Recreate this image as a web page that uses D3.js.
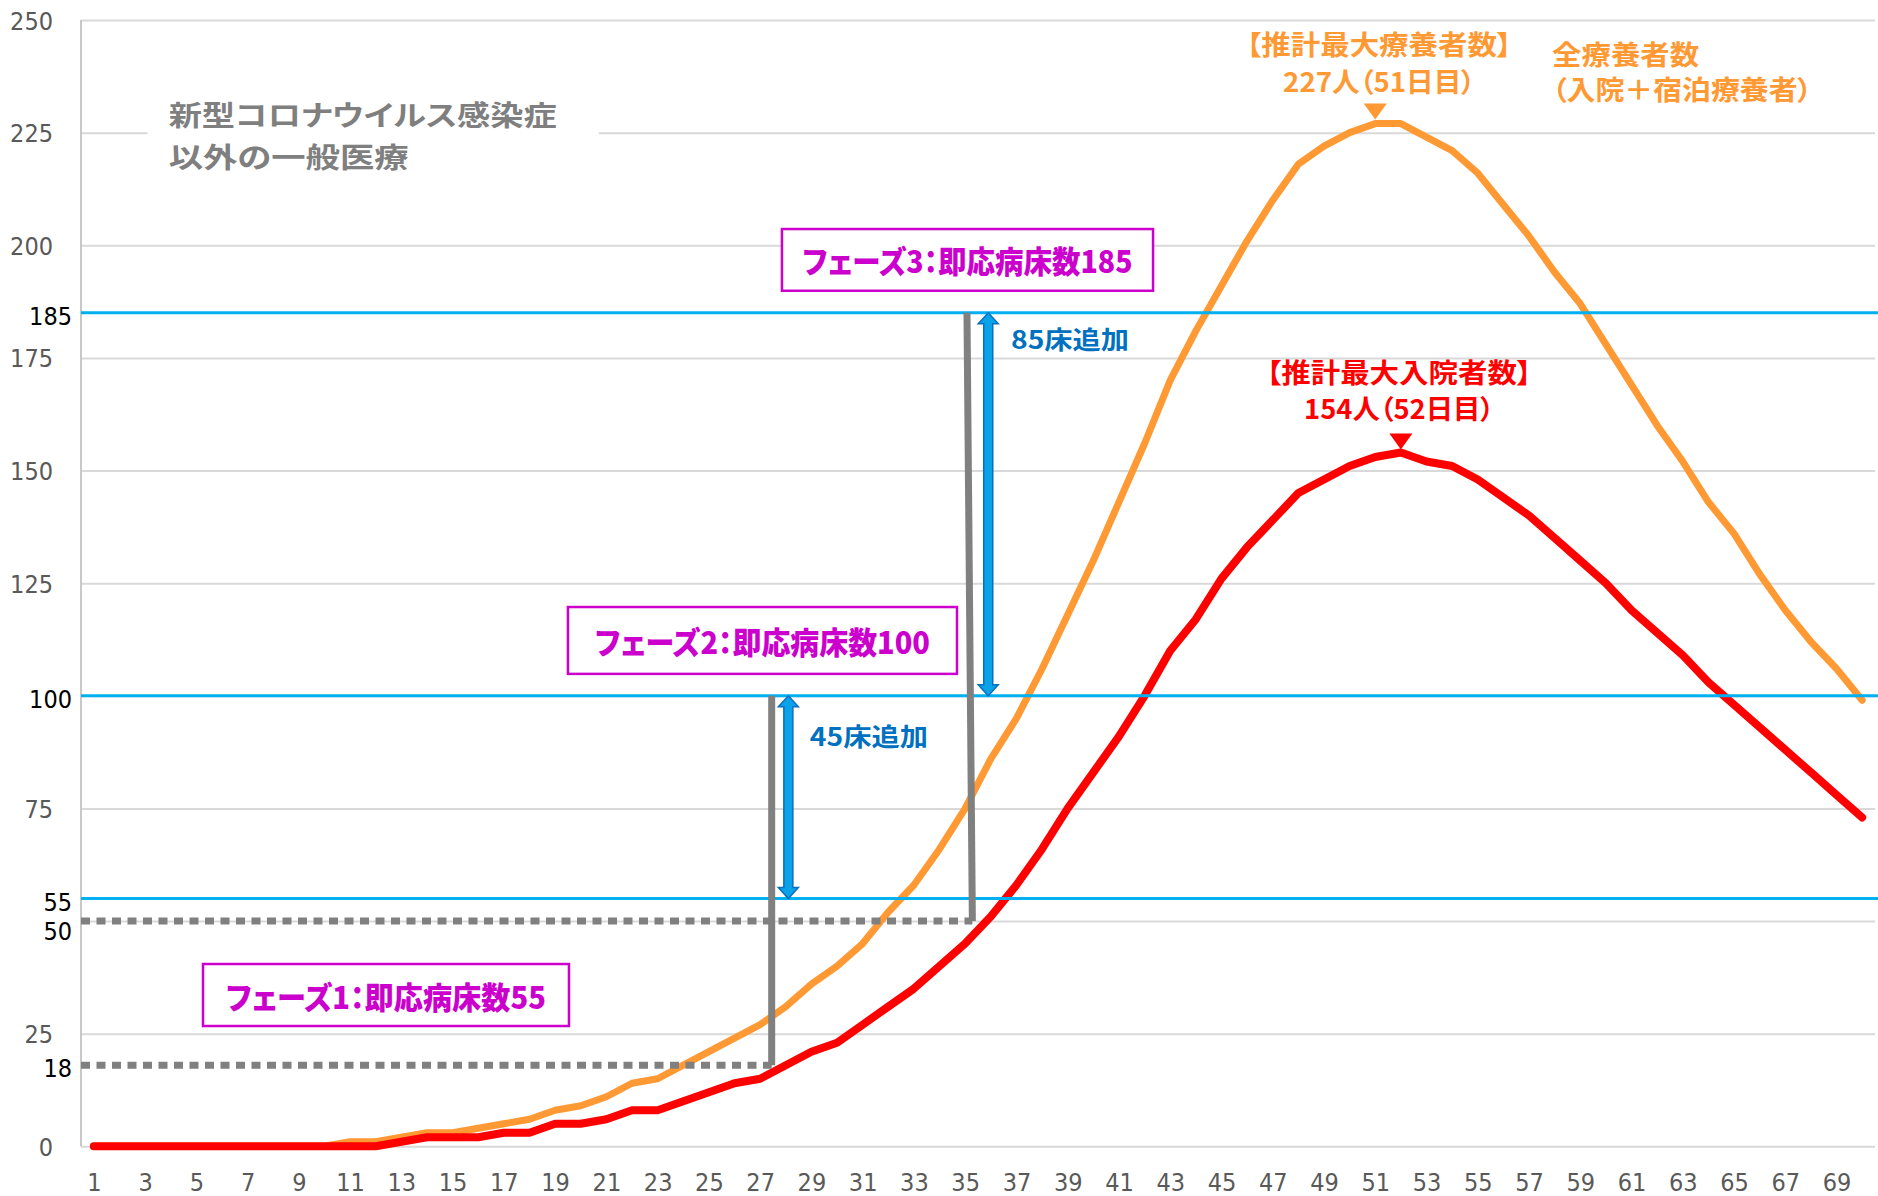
<!DOCTYPE html>
<html>
<head>
<meta charset="utf-8">
<script src="https://cdn.jsdelivr.net/npm/d3@7"></script>
<style>
    body { margin: 0; background: #fff; }
    svg { display: block; }
    .tick text {
        font-family: "DejaVu Sans Condensed", "DejaVu Sans", sans-serif;
        font-stretch: condensed;
        font-size: 25px;
        fill: #595959;
    }
    .jp {
        font-family: "Noto Sans CJK JP", sans-serif;
        font-weight: bold;
        font-feature-settings: "palt";
    }
    .heavy { font-weight: 900; }
</style>
</head>
<body>
<div class="chart-container"></div>
<script>
// Data
const days = [
    1, 2, 3, 4, 5, 6, 7, 8, 9, 10,
    11, 12, 13, 14, 15, 16, 17, 18, 19, 20,
    21, 22, 23, 24, 25, 26, 27, 28, 29, 30,
    31, 32, 33, 34, 35, 36, 37, 38, 39, 40,
    41, 42, 43, 44, 45, 46, 47, 48, 49, 50,
    51, 52, 53, 54, 55, 56, 57, 58, 59, 60,
    61, 62, 63, 64, 65, 66, 67, 68, 69, 70
];

// 全療養者数（入院＋宿泊療養者）
const totalCare = [
    0, 0, 0, 0, 0, 0, 0, 0, 0, 0,
    1, 1, 2, 3, 3, 4, 5, 6, 8, 9,
    11, 14, 15, 18, 21, 24, 27, 31, 36, 40,
    45, 52, 58, 66, 75, 86, 95, 106, 118, 130,
    143, 156, 170, 181, 191, 201, 210, 218, 222, 225,
    227, 227, 224, 221, 216, 209, 202, 194, 187, 178,
    169, 160, 152, 143, 136, 127, 119, 112, 106, 99
];

// 入院者数
const hospitalized = [
    0, 0, 0, 0, 0, 0, 0, 0, 0, 0,
    0, 0, 1, 2, 2, 2, 3, 3, 5, 5,
    6, 8, 8, 10, 12, 14, 15, 18, 21, 23,
    27, 31, 35, 40, 45, 51, 58, 66, 75, 83,
    91, 100, 110, 117, 126, 133, 139, 145, 148, 151,
    153, 154, 152, 151, 148, 144, 140, 135, 130, 125,
    119, 114, 109, 103, 98, 93, 88, 83, 78, 73
];

const gridValues = [0, 25, 50, 75, 100, 125, 150, 175, 200, 225, 250];
const grayTickValues = [0, 25, 75, 125, 150, 175, 200, 225, 250];
const markedValues = [18, 50, 55, 100, 185];
const bedLevels = [55, 100, 185];
const xTickValues = days.filter(d => d % 2 === 1);

const titleLines = ['新型コロナウイルス感染症', '以外の一般医療'];
const phaseLabels = ['フェーズ1：即応病床数55', 'フェーズ2：即応病床数100', 'フェーズ3：即応病床数185'];
const addLabels = ['45床追加', '85床追加'];

// Main
function ready() {
    const svgWidth = 1878;
    const svgHeight = 1196;
    const margin = { top: 20, right: 3, bottom: 49.7, left: 81 };
    const width = svgWidth - margin.left - margin.right;
    const height = svgHeight - margin.top - margin.bottom;

    const xScale = d3.scaleLinear().domain([0.5, 70.5]).range([0, width]);
    const yScale = d3.scaleLinear().domain([0, 250]).range([height, 0]);

    const svg = d3.select('.chart-container')
        .append('svg')
        .attr('width', svgWidth)
        .attr('height', svgHeight)
        .append('g')
        .attr('transform', 'translate(' + margin.left + ',' + margin.top + ')');

    // Gridlines
    const grid = svg.append('g').attr('class', 'grid')
        .call(d3.axisLeft(yScale).tickValues(gridValues).tickSize(-width).tickFormat(''));
    grid.select('.domain').remove();
    grid.selectAll('line').attr('stroke', '#d9d9d9').attr('stroke-width', 2);

    // Left axis line
    svg.append('line')
        .attr('x1', 0).attr('x2', 0)
        .attr('y1', 0).attr('y2', height)
        .attr('stroke', '#c8c8c8').attr('stroke-width', 2);

    // Y axis labels (gray)
    const yAxis = svg.append('g')
        .call(d3.axisLeft(yScale).tickValues(grayTickValues).tickSize(0).tickPadding(28));
    yAxis.select('.domain').remove();
    yAxis.selectAll('text').attr('dy', '0.36em');

    // X axis labels
    const xAxis = svg.append('g')
        .attr('transform', 'translate(0,' + height + ')')
        .call(d3.axisBottom(xScale).tickValues(xTickValues).tickSize(0).tickPadding(27));
    xAxis.select('.domain').remove();

    // Marked values on the y axis (black)
    svg.selectAll('.mark-label')
        .data(markedValues)
        .enter()
        .append('text')
        .attr('class', 'mark-label')
        .attr('x', -9)
        .attr('y', d => yScale(d) + (d === 50 ? 10 : 3))
        .attr('dy', '0.36em')
        .attr('text-anchor', 'end')
        .style('font-family', '"DejaVu Sans Condensed", "DejaVu Sans", sans-serif')
        .style('font-stretch', 'condensed')
        .style('font-size', '25px')
        .attr('fill', '#000')
        .text(d => d);

    // Title with white backing
    svg.append('rect')
        .attr('x', xScale(3.1)).attr('y', yScale(235.5))
        .attr('width', xScale(20.7) - xScale(3.1))
        .attr('height', yScale(215.6) - yScale(235.5))
        .attr('fill', '#fff');
    const titleWidths = [388, 240];
    svg.selectAll('.title')
        .data(titleLines)
        .enter()
        .append('text')
        .attr('class', 'title jp')
        .attr('font-size', 28)
        .attr('fill', '#7f7f7f')
        .attr('x', xScale(3.92))
        .attr('y', (d, i) => yScale(i === 0 ? 229.2 : 219.9))
        .attr('dominant-baseline', 'central')
        .attr('textLength', (d, i) => titleWidths[i])
        .attr('lengthAdjust', 'spacingAndGlyphs')
        .text(d => d);

    // Series lines
    const series = [
        { name: '全療養者数', color: '#ff9933', width: 7, values: totalCare },
        { name: '入院者数', color: '#ff0000', width: 8, values: hospitalized }
    ];
    const line = d3.line()
        .x((d, i) => xScale(days[i]))
        .y(d => yScale(d));
    svg.selectAll('.series')
        .data(series)
        .enter()
        .append('path')
        .attr('class', 'series')
        .attr('d', d => line(d.values))
        .attr('fill', 'none')
        .attr('stroke', d => d.color)
        .attr('stroke-width', d => d.width)
        .attr('stroke-linejoin', 'round')
        .attr('stroke-linecap', 'round');

    // Bed level lines (blue)
    svg.selectAll('.bed-level')
        .data(bedLevels)
        .enter()
        .append('line')
        .attr('class', 'bed-level')
        .attr('x1', 0).attr('x2', svgWidth - margin.left)
        .attr('y1', d => yScale(d)).attr('y2', d => yScale(d))
        .attr('stroke', '#00b0f0')
        .attr('stroke-width', 3);

    // Dotted levels and vertical phase switch lines
    const gray = '#808080';
    const switches = [
        { from: 18, to: 100, dayBottom: 27.45, dayTop: 27.45 },
        { from: 50, to: 185, dayBottom: 35.28, dayTop: 35.07 }
    ];
    svg.selectAll('.dotted')
        .data(switches)
        .enter()
        .append('line')
        .attr('class', 'dotted')
        .attr('x1', xScale(0.5)).attr('x2', d => xScale(d.dayBottom))
        .attr('y1', d => yScale(d.from)).attr('y2', d => yScale(d.from))
        .attr('stroke', gray)
        .attr('stroke-width', 7)
        .attr('stroke-dasharray', '9 6.5');
    svg.selectAll('.switch')
        .data(switches)
        .enter()
        .append('line')
        .attr('class', 'switch')
        .attr('x1', d => xScale(d.dayBottom)).attr('x2', d => xScale(d.dayTop))
        .attr('y1', d => yScale(d.from)).attr('y2', d => yScale(d.to))
        .attr('stroke', gray)
        .attr('stroke-width', 7);

    // Double arrows for added beds
    const arrows = [
        { day: 28.1, top: 100, bottom: 55, label: addLabels[0], labelDay: 28.94, labelValue: 91.3 },
        { day: 35.9, top: 185, bottom: 100, label: addLabels[1], labelDay: 36.79, labelValue: 179.4 }
    ];
    function arrowPath(d) {
        const cx = xScale(d.day), y1 = yScale(d.top), y2 = yScale(d.bottom);
        const s = 4.5, h = 10, l = 11;
        return 'M' + cx + ',' + y1 +
            'L' + (cx + h) + ',' + (y1 + l) + 'L' + (cx + s) + ',' + (y1 + l) +
            'L' + (cx + s) + ',' + (y2 - l) + 'L' + (cx + h) + ',' + (y2 - l) +
            'L' + cx + ',' + y2 +
            'L' + (cx - h) + ',' + (y2 - l) + 'L' + (cx - s) + ',' + (y2 - l) +
            'L' + (cx - s) + ',' + (y1 + l) + 'L' + (cx - h) + ',' + (y1 + l) + 'Z';
    }
    svg.selectAll('.arrow')
        .data(arrows)
        .enter()
        .append('path')
        .attr('class', 'arrow')
        .attr('d', arrowPath)
        .attr('fill', '#0aa2e8')
        .attr('stroke', '#0b6fbf')
        .attr('stroke-width', 1.5);
    svg.selectAll('.arrow-label')
        .data(arrows)
        .enter()
        .append('text')
        .attr('class', 'arrow-label jp')
        .attr('x', d => xScale(d.labelDay))
        .attr('y', d => yScale(d.labelValue))
        .attr('dominant-baseline', 'central')
        .attr('font-size', 25)
        .attr('fill', '#0070c0')
        .attr('textLength', 118)
        .attr('lengthAdjust', 'spacingAndGlyphs')
        .text(d => d.label);

    // Phase boxes
    const phases = [
        { label: phaseLabels[0], x0: 5.26, x1: 19.54, top: 40.46, bottom: 26.7, textWidth: 320 },
        { label: phaseLabels[1], x0: 19.5, x1: 34.68, top: 119.7, bottom: 104.86, textWidth: 335 },
        { label: phaseLabels[2], x0: 27.85, x1: 42.33, top: 203.6, bottom: 189.9, textWidth: 330 }
    ];
    const phaseG = svg.selectAll('.phase')
        .data(phases)
        .enter()
        .append('g')
        .attr('class', 'phase');
    phaseG.append('rect')
        .attr('x', d => xScale(d.x0))
        .attr('y', d => yScale(d.top))
        .attr('width', d => xScale(d.x1) - xScale(d.x0))
        .attr('height', d => yScale(d.bottom) - yScale(d.top))
        .attr('fill', '#fff')
        .attr('stroke', '#cc00cc')
        .attr('stroke-width', 2.5);
    phaseG.append('text')
        .attr('class', 'jp heavy')
        .attr('x', d => (xScale(d.x0) + xScale(d.x1)) / 2)
        .attr('y', d => (yScale(d.top) + yScale(d.bottom)) / 2)
        .attr('text-anchor', 'middle')
        .attr('dominant-baseline', 'central')
        .attr('font-size', 31)
        .attr('fill', '#cc00cc')
        .attr('textLength', d => d.textWidth)
        .attr('lengthAdjust', 'spacingAndGlyphs')
        .text(d => d.label);

    // Peak annotations
    const peakTotal = d3.max(totalCare);
    const peakTotalDay = days[totalCare.indexOf(peakTotal)];
    const peakHosp = d3.max(hospitalized);
    const peakHospDay = days[hospitalized.indexOf(peakHosp)];

    const peaks = [
        {
            color: '#ff9933', day: peakTotalDay, value: peakTotal, tipGap: 4, labelDay: 51.15,
            lines: ['【推計最大療養者数】', peakTotal + '人（' + peakTotalDay + '日目）'],
            lineValues: [244.7, 236.5], widths: [265, 192]
        },
        {
            color: '#ff0000', day: peakHospDay, value: peakHosp, tipGap: 3, labelDay: 51.93,
            lines: ['【推計最大入院者数】', peakHosp + '人（' + peakHospDay + '日目）'],
            lineValues: [172, 164], widths: [265, 190]
        }
    ];
    peaks.forEach(p => {
        const tx = xScale(p.day);
        const ty = yScale(p.value) - p.tipGap;
        svg.append('path')
            .attr('d', 'M' + tx + ',' + ty + 'L' + (tx - 11.5) + ',' + (ty - 16) + 'L' + (tx + 11.5) + ',' + (ty - 16) + 'Z')
            .attr('fill', p.color);
        const label = svg.append('text')
            .attr('class', 'jp')
            .attr('text-anchor', 'middle')
            .attr('font-size', 27)
            .attr('fill', p.color);
        p.lines.forEach((t, i) => {
            label.append('tspan')
                .attr('x', xScale(p.labelDay))
                .attr('y', yScale(p.lineValues[i]))
                .attr('dominant-baseline', 'central')
                .attr('textLength', p.widths[i])
                .attr('lengthAdjust', 'spacingAndGlyphs')
                .text(t);
        });
    });

    // Series label for total care
    const seriesLabel = [
        { text: '全療養者数', value: 242.6, width: 147 },
        { text: '（入院＋宿泊療養者）', value: 234.7, width: 260 }
    ];
    const sLabel = svg.append('text')
        .attr('class', 'series-label jp')
        .attr('font-size', 27)
        .attr('fill', '#ff9933');
    sLabel.selectAll('tspan')
        .data(seriesLabel)
        .enter()
        .append('tspan')
        .attr('x', xScale(57.9))
        .attr('y', d => yScale(d.value))
        .attr('dominant-baseline', 'central')
        .attr('textLength', d => d.width)
        .attr('lengthAdjust', 'spacingAndGlyphs')
        .text(d => d.text);
}

ready();
</script>
</body>
</html>
